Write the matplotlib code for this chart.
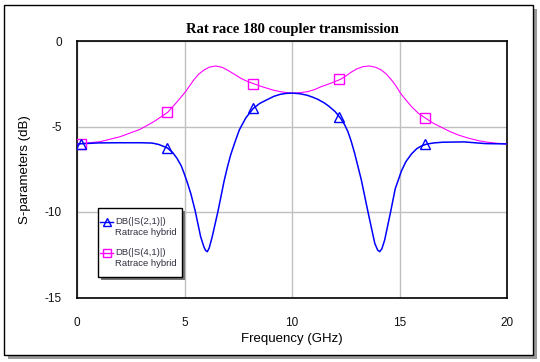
import matplotlib
matplotlib.use("Agg")
import matplotlib.pyplot as plt
from matplotlib.patches import Rectangle
from matplotlib.lines import Line2D

W, H = 540, 362

# ---- data ----
s21_freq = [0.0, 1.0, 2.0, 3.0, 3.5, 3.8, 4.2, 4.45, 4.65, 4.85, 5.0, 5.15, 5.3,
            5.5, 5.75, 5.9, 5.98, 6.06, 6.15, 6.29, 6.55, 6.84, 7.0, 7.15, 7.35,
            7.55, 7.85, 8.2, 8.5, 8.86, 9.15, 9.45, 9.75, 10.05, 10.35, 10.7,
            10.95, 11.2, 11.5, 11.7, 12.0, 12.26, 12.45, 12.6, 12.75, 12.91, 13.22,
            13.54, 13.85, 13.98, 14.08, 14.18, 14.31, 14.58, 14.8, 15.09, 15.3,
            15.56, 15.8, 16.03, 16.26, 16.6, 17.0, 18.0, 19.0, 20.0]
s21_db = [-6.02, -5.96, -5.95, -5.95, -5.97, -6.05, -6.25, -6.52, -6.86, -7.3,
          -7.8, -8.35, -8.95, -9.95, -11.44, -12.03, -12.25, -12.32, -12.1, -11.44,
          -10.0, -8.2, -7.35, -6.65, -5.9, -5.2, -4.5, -3.94, -3.65, -3.42, -3.24,
          -3.12, -3.06, -3.05, -3.08, -3.17, -3.28, -3.41, -3.62, -3.8, -4.12,
          -4.52, -4.9, -5.3, -5.85, -6.55, -8.1, -10.03, -11.83, -12.22, -12.32,
          -12.15, -11.64, -10.03, -8.65, -7.6, -7.05, -6.6, -6.3, -6.13, -6.03,
          -5.96, -5.92, -5.9, -6.0, -6.02]

s41_freq = [0.0, 1.07, 2.0, 2.94, 3.57, 4.22, 4.66, 5.05, 5.43, 5.65, 5.9, 6.15,
            6.45, 6.75, 7.0, 7.3, 7.62, 7.9, 8.24, 8.55, 8.86, 9.15, 9.45, 9.75,
            10.06, 10.4, 10.73, 11.05, 11.36, 11.8, 12.26, 12.5, 12.76, 13.0, 13.3,
            13.61, 13.9, 14.16, 14.4, 14.63, 14.85, 15.05, 15.3, 15.56, 15.9, 16.29,
            16.6, 16.96, 17.35, 17.74, 18.2, 18.68, 19.1, 19.53, 20.0]
s41_db = [-6.02, -5.89, -5.6, -5.16, -4.72, -4.17, -3.55, -2.96, -2.28, -1.95,
          -1.70, -1.53, -1.46, -1.54, -1.70, -1.93, -2.18, -2.35, -2.51, -2.65,
          -2.77, -2.88, -2.96, -3.02, -3.05, -3.02, -2.96, -2.84, -2.67, -2.47,
          -2.24, -2.05, -1.82, -1.64, -1.50, -1.46, -1.54, -1.70, -1.95, -2.28,
          -2.65, -3.06, -3.45, -3.84, -4.25, -4.58, -4.83, -5.05, -5.3, -5.50,
          -5.68, -5.83, -5.92, -5.98, -6.02]

marker_freq = [0.2, 4.2, 8.2, 12.2, 16.2]
s21_marker_db = [-6.0, -6.25, -3.94, -4.45, -6.05]
s41_marker_db = [-6.02, -4.17, -2.51, -2.22, -4.52]

x_ticks = [0, 5, 10, 15, 20]
y_ticks = [0, -5, -10, -15]
legend_labels = ["DB(|S(2,1)|)", "DB(|S(4,1)|)"]
legend_sub = "Ratrace hybrid"
title = "Rat race 180 coupler transmission"

BLUE = "#0000ff"
MAG = "#ff00ff"

fig = plt.figure(figsize=(W / 100, H / 100), dpi=100)
fig.patch.set_facecolor("white")


def fx(px):
    return px / W


def fy(py):
    return 1 - py / H


# outer frame with shadow
fig.patches.append(Rectangle((fx(8), fy(359)), (533 - 4) / W, (355 - 5) / H,
                             transform=fig.transFigure, facecolor="#9a9a9a",
                             edgecolor="none", zorder=0))
fig.patches.append(Rectangle((fx(4), fy(355)), (533 - 4) / W, (355 - 5) / H,
                             transform=fig.transFigure, facecolor="white",
                             edgecolor="black", linewidth=1.0, zorder=0.5))

ax_l, ax_r, ax_t, ax_b = 77, 507, 41, 297.5
ax = fig.add_axes([fx(ax_l), fy(ax_b), (ax_r - ax_l) / W, (ax_b - ax_t) / H])
ax.set_zorder(1)
ax.set_xlim(0, 20)
ax.set_ylim(-15, 0)
ax.set_xticks(x_ticks)
ax.set_yticks(y_ticks)
ax.set_xticklabels([str(t) for t in x_ticks])
ax.set_yticklabels([str(t) for t in y_ticks])
ax.grid(True, color="#c0c0c0", linewidth=1.0)
ax.set_axisbelow(True)
for sp in ax.spines.values():
    sp.set_linewidth(1.2)
    sp.set_color("black")
ax.tick_params(length=0, labelsize=8.5, colors="#111111")
ax.tick_params(axis="x", pad=14)
ax.tick_params(axis="y", pad=11)
for lab in ax.get_xticklabels() + ax.get_yticklabels():
    lab.set_fontfamily("Liberation Sans")

ax.plot(s41_freq, s41_db, color=MAG, linewidth=0.8, zorder=3)
ax.plot(s21_freq, s21_db, color=BLUE, linewidth=1.1, zorder=4)
ax.plot(marker_freq, s41_marker_db, linestyle="none", marker="s", markersize=7,
        markerfacecolor="none", markeredgecolor=MAG, markeredgewidth=1.0, zorder=5)
ax.plot(marker_freq, s21_marker_db, linestyle="none", marker="^", markersize=7,
        markerfacecolor="none", markeredgecolor=BLUE, markeredgewidth=1.0, zorder=6)

ax.set_xlabel("Frequency (GHz)", fontsize=9.5, family="Liberation Sans", labelpad=3)
ax.set_ylabel("S-parameters (dB)", fontsize=9.5, family="Liberation Sans", labelpad=10)

fig.text(fx(292), fy(30), title, ha="center", va="center", fontsize=10.5,
         fontweight="bold", family="Liberation Serif")

# legend box (drawn manually, with shadow)
lx0, ly0, lx1, ly1 = 97.7, 208.3, 181.7, 276.7
fig.patches.append(Rectangle((fx(lx0 + 3), fy(ly1 + 3)), (lx1 - lx0) / W, (ly1 - ly0) / H,
                             transform=fig.transFigure, facecolor="#777777",
                             edgecolor="none", zorder=7))
fig.patches.append(Rectangle((fx(lx0), fy(ly1)), (lx1 - lx0) / W, (ly1 - ly0) / H,
                             transform=fig.transFigure, facecolor="white",
                             edgecolor="black", linewidth=1.0, zorder=8))
entries = [(221.7, BLUE, "^", legend_labels[0]), (252.7, MAG, "s", legend_labels[1])]
for yy, col, mk, lab in entries:
    fig.lines.append(Line2D([fx(100), fx(113)], [fy(yy), fy(yy)], transform=fig.transFigure,
                            color=col, linewidth=1.0, zorder=9))
    fig.lines.append(Line2D([fx(106.5)], [fy(yy)], transform=fig.transFigure,
                            marker=mk, markersize=6, markerfacecolor="none",
                            markeredgecolor=col, markeredgewidth=1.0, zorder=9))
    fig.text(fx(115), fy(yy), lab, ha="left", va="center", fontsize=6.8,
             family="Liberation Sans", color="#303040", zorder=10)
    fig.text(fx(115), fy(yy + 10.5), legend_sub, ha="left", va="center", fontsize=6.8,
             family="Liberation Sans", color="#303040", zorder=10)

fig.savefig("out.png", dpi=100, facecolor="white")
